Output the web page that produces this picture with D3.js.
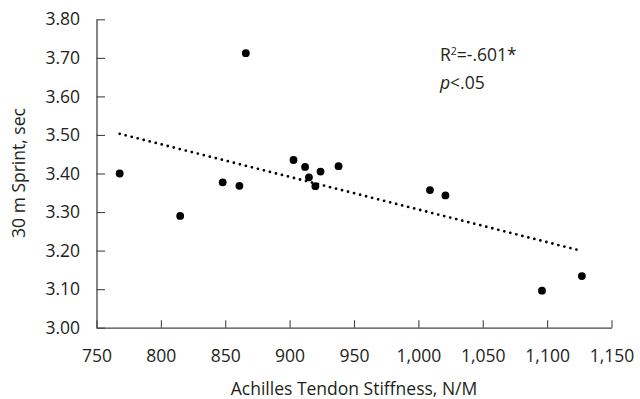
<!DOCTYPE html>
<html>
<head>
<meta charset="utf-8">
<script src="https://cdn.jsdelivr.net/npm/d3@7"></script>
<style>
  body { margin: 0; background: #fff; }
  text { font-family: "Open Sans", "Noto Sans", sans-serif; fill: #231f20; }
</style>
</head>
<body>
<div id="chart"></div>
<script>
// data
var stiffness = [768, 815, 848, 861, 866, 903, 912, 915, 920, 924, 938, 1009, 1021, 1096, 1127]
var sprint    = [3.40, 3.29, 3.377, 3.368, 3.712, 3.435, 3.417, 3.39, 3.367, 3.405, 3.419, 3.357, 3.343, 3.096, 3.134]
var trendX = [768, 1127]
var trendY = [3.503, 3.199]
var xTicks = [750, 800, 850, 900, 950, 1000, 1050, 1100, 1150]
var yTicks = [3.00, 3.10, 3.20, 3.30, 3.40, 3.50, 3.60, 3.70, 3.80]

var width = 640
var height = 399
var margin = {left: 96.5, top: 19.3, right: 28.5, bottom: 71.3}
var fontSize = "17.5px"

var svg = d3.select("#chart")
            .append("svg")
            .attr("width", width)
            .attr("height", height)

var xScale = d3.scaleLinear().domain([750, 1150]).range([margin.left, width - margin.right])
var yScale = d3.scaleLinear().domain([3.0, 3.8]).range([height - margin.bottom, margin.top])

// axes, ticks pointing into the plot
var xAxis = d3.axisBottom(xScale).tickValues(xTicks).tickSizeInner(-7.5).tickSizeOuter(0)
              .tickPadding(22).tickFormat(d3.format(",d"))
var yAxis = d3.axisLeft(yScale).tickValues(yTicks).tickSizeInner(-8.5).tickSizeOuter(0)
              .tickPadding(16.5).tickFormat(d3.format(".2f"))

var gx = svg.append("g")
   .attr("transform", "translate(0," + (height - margin.bottom) + ")")
   .call(xAxis)
var gy = svg.append("g")
   .attr("transform", "translate(" + margin.left + ",0)")
   .call(yAxis)

svg.selectAll(".domain").attr("stroke", "#444").attr("stroke-width", 1.3)
svg.selectAll(".tick line").attr("stroke", "#444").attr("stroke-width", 1.1)
svg.selectAll(".tick text").style("font-size", fontSize).attr("fill", "#231f20")

// trend line (dotted)
svg.append("line")
   .attr("x1", xScale(trendX[0])).attr("y1", yScale(trendY[0]))
   .attr("x2", xScale(trendX[1])).attr("y2", yScale(trendY[1]))
   .attr("stroke", "#000")
   .attr("stroke-width", 2.8)
   .attr("stroke-linecap", "round")
   .attr("stroke-dasharray", "0,6.2")

// points
svg.selectAll("circle.pt")
   .data(stiffness)
   .enter()
   .append("circle")
   .attr("class", "pt")
   .attr("cx", d => xScale(d))
   .attr("cy", (d, i) => yScale(sprint[i]))
   .attr("r", 3.9)
   .attr("fill", "#000")

// axis titles
svg.append("text")
   .attr("x", 354)
   .attr("y", 394.5)
   .style("text-anchor", "middle")
   .style("font-size", fontSize)
   .text("Achilles Tendon Stiffness, N/M")

svg.append("text")
   .attr("transform", "translate(24.5,173) rotate(-90)")
   .style("text-anchor", "middle")
   .style("font-size", fontSize)
   .text("30 m Sprint, sec")

// annotation
var note = svg.append("text")
   .attr("x", 440)
   .attr("y", 61)
   .style("font-size", fontSize)
note.append("tspan").text("R")
note.append("tspan").attr("dy", -6.5).style("font-size", "10.5px").text("2")
note.append("tspan").attr("dy", 6.5).text("=-.601*")

var note2 = svg.append("text")
   .attr("x", 440)
   .attr("y", 89)
   .style("font-size", fontSize)
note2.append("tspan").style("font-style", "italic").text("p")
note2.append("tspan").text("<.05")
</script>
</body>
</html>
